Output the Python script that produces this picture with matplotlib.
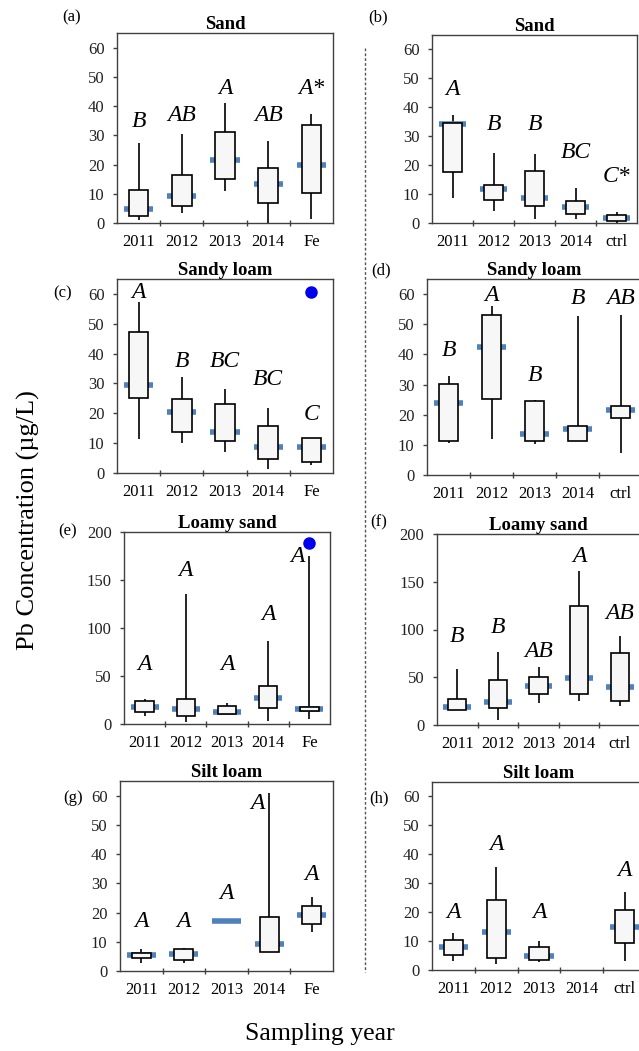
import matplotlib
matplotlib.use('Agg')
import matplotlib.pyplot as plt
from matplotlib.lines import Line2D

plt.rcParams['font.family'] = 'serif'
plt.rcParams['font.serif'] = ['Liberation Serif', 'DejaVu Serif']

W, H = 639, 1051

years_fe = ['2011', '2012', '2013', '2014', 'Fe']
years_ctrl = ['2011', '2012', '2013', '2014', 'ctrl']

# per group: whisker low, box low, box high, whisker high, marker
a_stats = [[0.9, 2.3, 11.2, 27.4, 4.9],
           [3.5, 5.8, 16.3, 30.6, 9.1],
           [11.0, 15.2, 31.0, 41.1, 21.7],
           [0.0, 6.9, 18.9, 27.9, 13.5],
           [1.5, 10.3, 33.5, 37.3, 19.8]]
a_letters = ['B', 'AB', 'A', 'AB', 'A*']
a_letter_y = [32.9, 34.9, 44.0, 34.9, 44.0]

b_stats = [[8.6, 17.6, 34.7, 37.2, 34.1],
           [4.1, 8.1, 13.0, 24.2, 11.8],
           [1.5, 5.9, 18.0, 24.0, 8.8],
           [1.3, 3.1, 7.5, 12.2, 5.5],
           [0.0, 0.7, 2.6, 3.7, 1.8]]
b_letters = ['A', 'B', 'B', 'BC', 'C*']
b_letter_y = [44.1, 32.0, 32.0, 22.5, 14.2]

c_stats = [[11.5, 25.2, 47.1, 57.3, 29.4],
           [10.2, 13.8, 24.7, 32.3, 20.4],
           [7.1, 10.8, 23.1, 28.1, 13.8],
           [1.5, 4.8, 15.8, 21.9, 8.7],
           [2.8, 3.7, 11.8, 11.8, 8.7]]
c_letters = ['A', 'B', 'BC', 'BC', 'C']
c_letter_y = [58.6, 35.6, 35.6, 29.5, 17.7]
c_outlier = [4, 60.6]

d_stats = [[10.5, 11.4, 30.2, 32.7, 24.0],
           [12.0, 25.2, 52.9, 55.9, 42.4],
           [10.3, 11.4, 24.4, 24.9, 13.6],
           [11.4, 11.4, 16.4, 52.6, 15.2],
           [7.2, 18.8, 22.9, 52.9, 21.5]]
d_letters = ['B', 'A', 'B', 'B', 'AB']
d_letter_y = [39.3, 57.8, 31.2, 56.8, 56.8]

e_stats = [[8.3, 12.9, 24.0, 26.0, 18.1],
           [2.4, 8.7, 25.7, 135.3, 15.3],
           [10.4, 10.4, 18.8, 21.6, 12.9],
           [3.5, 16.3, 40.0, 86.6, 26.8],
           [4.9, 13.9, 18.1, 174.6, 15.3]]
e_letters = ['A', 'A', 'A', 'A', 'A']
e_letter_y = [56.3, 153.7, 56.3, 108.5, 168.3]
e_letter_dx = [0, 0, 0, 0, -0.3]
e_outlier = [4, 188.5]

f_stats = [[15.7, 15.7, 26.9, 58.7, 18.5],
           [5.2, 18.2, 47.2, 76.9, 23.8],
           [22.7, 32.5, 50.0, 60.5, 41.3],
           [25.5, 32.5, 124.1, 160.8, 49.0],
           [20.3, 25.5, 75.9, 92.7, 40.2]]
f_letters = ['B', 'B', 'AB', 'A', 'AB']
f_letter_y = [86.4, 96.2, 71.0, 170.3, 110.8]

g_stats = [[2.8, 4.6, 6.3, 7.4, 5.5],
           [2.7, 3.6, 7.5, 7.7, 5.9],
           [None, None, None, None, 17.2],
           [6.5, 6.5, 18.5, 60.8, 9.1],
           [13.2, 16.2, 22.2, 25.3, 19.2]]
g_letters = ['A', 'A', 'A', 'A', 'A']
g_letter_y = [15.0, 15.0, 24.7, 55.5, 31.2]
g_letter_dx = [0, 0, 0, -0.28, 0]

h_stats = [[3.2, 5.2, 10.2, 12.7, 7.8],
           [2.0, 4.0, 24.2, 35.5, 13.3],
           [2.7, 3.5, 7.8, 10.0, 5.0],
           [None, None, None, None, None],
           [3.2, 9.2, 20.8, 26.8, 15.0]]
h_letters = ['A', 'A', 'A', '', 'A']
h_letter_y = [17.9, 41.5, 17.9, 0, 32.5]

MARK_BLUE = '#4f81bd'
BOX_FILL = '#f7f7f7'
AXIS_GREY = '#404040'


def rect(left, top, right, bottom):
    return [left / W, 1 - bottom / H, (right - left) / W, (bottom - top) / H]


def draw_panel(ax, cats, stats, letters, letter_y, title, ymax, yticks,
               letter_dx=None, outlier=None):
    n = len(cats)
    xs = list(range(n))
    if letter_dx is None:
        letter_dx = [0] * n
    for x, (lo, q1, q3, hi, mark) in zip(xs, stats):
        if lo is not None:
            ax.vlines(x, lo, hi, color='black', lw=1.2, zorder=2)
        if mark is not None:
            ax.hlines(mark, x - 0.34, x + 0.34, color=MARK_BLUE, lw=4, zorder=3)
        if q1 is not None:
            ax.bar(x, q3 - q1, bottom=q1, width=0.45, color=BOX_FILL,
                   edgecolor='black', linewidth=1.2, zorder=4)
    for x, s, y, dx in zip(xs, letters, letter_y, letter_dx):
        if s:
            ax.text(x + dx, y, s, ha='center', va='baseline', fontsize=17,
                    fontstyle='italic', zorder=5)
    if outlier is not None:
        ax.plot(outlier[0], outlier[1], 'o', color='#0000ee', ms=8, zorder=6,
                clip_on=False)

    ax.set_xlim(-0.5, n - 0.5)
    ax.set_ylim(0, ymax)
    ax.set_yticks(yticks)
    ax.set_xticks(xs)
    ax.set_xticklabels(cats)
    ax.set_xticks([i + 0.5 for i in range(n - 1)], minor=True)
    ax.tick_params(axis='x', which='major', length=0, labelsize=12, pad=8)
    ax.tick_params(axis='x', which='minor', length=5, direction='inout',
                   color=AXIS_GREY, width=1)
    ax.tick_params(axis='y', length=3, labelsize=12, pad=6, color=AXIS_GREY,
                   width=1, labelcolor='#222222')
    for sp in ax.spines.values():
        sp.set_color(AXIS_GREY)
        sp.set_linewidth(1)
    ax.set_title(title, fontsize=13.5, fontweight='bold', pad=2)


fig = plt.figure(figsize=(W / 100, H / 100), dpi=100)
fig.patch.set_facecolor('white')

t60 = [0, 10, 20, 30, 40, 50, 60]
t200 = [0, 50, 100, 150, 200]

ax = fig.add_axes(rect(117, 33, 333, 223))
draw_panel(ax, years_fe, a_stats, a_letters, a_letter_y, 'Sand', 65, t60)
ax = fig.add_axes(rect(432, 35, 637, 223))
draw_panel(ax, years_ctrl, b_stats, b_letters, b_letter_y, 'Sand', 65, t60)
ax = fig.add_axes(rect(117, 279, 333, 473))
draw_panel(ax, years_fe, c_stats, c_letters, c_letter_y, 'Sandy loam', 65, t60,
           outlier=c_outlier)
ax = fig.add_axes(rect(427, 279, 642, 475))
draw_panel(ax, years_ctrl, d_stats, d_letters, d_letter_y, 'Sandy loam', 65, t60)
ax = fig.add_axes(rect(124, 532, 330, 724))
draw_panel(ax, years_fe, e_stats, e_letters, e_letter_y, 'Loamy sand', 200, t200,
           letter_dx=e_letter_dx, outlier=e_outlier)
ax = fig.add_axes(rect(437, 534, 640, 725))
draw_panel(ax, years_ctrl, f_stats, f_letters, f_letter_y, 'Loamy sand', 200, t200)
ax = fig.add_axes(rect(120, 781, 333, 971))
draw_panel(ax, years_fe, g_stats, g_letters, g_letter_y, 'Silt loam', 65, t60,
           letter_dx=g_letter_dx)
ax = fig.add_axes(rect(432, 782, 646, 970))
draw_panel(ax, years_ctrl, h_stats, h_letters, h_letter_y, 'Silt loam', 65, t60)

# panel tags
tags = [('(a)', 72, 17), ('(b)', 378, 17), ('(c)', 63, 293), ('(d)', 381, 270),
        ('(e)', 68, 531), ('(f)', 379, 522), ('(g)', 73, 798), ('(h)', 379, 798)]
for s, px, py in tags:
    fig.text(px / W, 1 - py / H, s, ha='center', va='center', fontsize=12)

# divider between the two columns
fig.add_artist(Line2D([365 / W, 365 / W], [1 - 48 / H, 1 - 972 / H],
                      color='#555555', lw=1, linestyle=(0, (2, 1.5))))

fig.text(28 / W, 1 - 520 / H, 'Pb Concentration (µg/L)', rotation=90,
         ha='center', va='center', fontsize=19)
fig.text(320 / W, 1 - 1034 / H, 'Sampling year', ha='center', va='center',
         fontsize=18.5)

fig.savefig('out.png', dpi=100, facecolor='white')
